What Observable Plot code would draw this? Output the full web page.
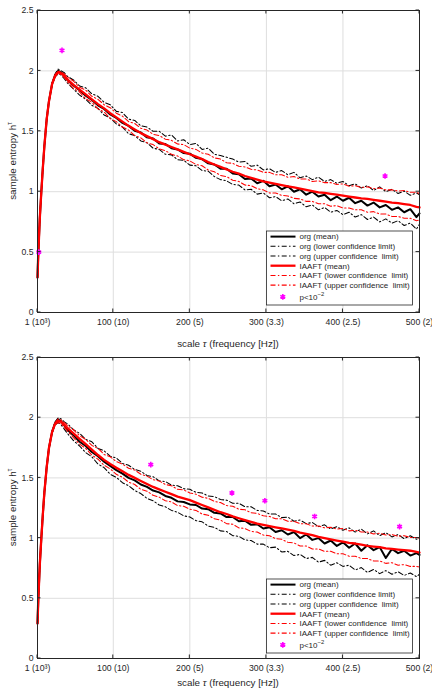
<!DOCTYPE html>
<html><head><meta charset="utf-8">
<script src="https://cdn.jsdelivr.net/npm/d3@7"></script>
<script src="https://cdn.jsdelivr.net/npm/@observablehq/plot@0.6"></script>
<style>
body{margin:0;background:#fff;font-family:"Liberation Sans",Arial,sans-serif}
svg{display:block}
</style>
</head><body><div id="c"></div>
<script>
const scales = [1,2,4,6,8,10,13,16,20,24,28,32,36,40,
48,56,64,72,80,88,96,104,
112,120,128,136,144,152,160,168,
176,184,192,200,208,216,224,232,
240,248,256,264,272,280,288,296,
304,312,320,328,336,344,352,360,
368,376,384,392,400,408,416,424,
432,440,448,456,464,472,480,488,
496,500];

// ---- top panel ----
const topOrgMean = [0.29,0.48,0.78,1.00,1.20,1.38,1.60,1.75,1.89,1.965,2.0,1.985,1.96,1.925,
1.88,1.84,1.795,1.76,1.715,1.685,1.64,1.61,
1.57,1.545,1.505,1.49,1.45,1.44,1.40,1.395,
1.36,1.35,1.32,1.315,1.28,1.27,1.235,1.225,
1.19,1.19,1.15,1.145,1.105,1.11,1.07,1.09,
1.045,1.06,1.02,1.045,1.0,1.02,0.975,1.0,
0.96,0.975,0.93,0.96,0.925,0.95,0.905,0.925,
0.885,0.91,0.87,0.89,0.85,0.87,0.83,0.855,
0.79,0.82];
const topOrgLower = [0.28,0.47,0.77,0.99,1.19,1.37,1.59,1.74,1.88,1.95,1.975,1.965,1.935,1.90,
1.85,1.80,1.765,1.715,1.69,1.635,1.61,1.56,
1.535,1.48,1.465,1.42,1.405,1.36,1.35,1.31,
1.305,1.265,1.26,1.22,1.215,1.175,1.17,1.125,
1.10,1.09,1.06,1.055,1.015,1.02,0.98,0.99,
0.95,0.96,0.925,0.94,0.90,0.915,0.875,0.89,
0.85,0.87,0.83,0.845,0.81,0.83,0.79,0.81,
0.77,0.79,0.75,0.775,0.74,0.76,0.72,0.74,
0.69,0.73];
const topOrgUpper = [0.30,0.49,0.79,1.01,1.21,1.39,1.61,1.76,1.90,1.975,2.015,2.0,1.985,1.955,
1.925,1.875,1.86,1.81,1.79,1.74,1.72,1.665,
1.655,1.60,1.59,1.545,1.535,1.50,1.50,1.46,
1.47,1.42,1.43,1.39,1.40,1.35,1.36,1.31,
1.30,1.285,1.27,1.245,1.25,1.21,1.22,1.18,
1.19,1.16,1.175,1.14,1.16,1.115,1.13,1.10,
1.12,1.085,1.10,1.07,1.085,1.05,1.065,1.03,
1.05,1.01,1.04,1.0,1.02,0.985,1.005,0.97,
0.99,0.975];
const topIaaftMean = [0.29,0.48,0.78,1.00,1.20,1.38,1.60,1.75,1.89,1.96,1.99,1.98,1.96,1.93,
1.885,1.845,1.805,1.765,1.725,1.69,1.65,1.615,
1.58,1.545,1.515,1.485,1.46,1.435,1.41,1.39,
1.37,1.35,1.33,1.31,1.29,1.27,1.245,1.225,
1.205,1.185,1.165,1.15,1.13,1.115,1.10,1.085,
1.075,1.065,1.055,1.045,1.035,1.025,1.015,1.005,
0.995,0.99,0.982,0.975,0.968,0.96,0.952,0.945,
0.94,0.932,0.925,0.918,0.91,0.905,0.898,0.89,
0.875,0.87];
const topIaaftLower = [0.285,0.475,0.775,0.995,1.195,1.375,1.595,1.745,1.885,1.95,1.98,1.97,1.945,1.91,
1.855,1.825,1.77,1.74,1.685,1.66,1.605,1.58,
1.535,1.51,1.465,1.445,1.405,1.39,1.355,1.34,
1.31,1.295,1.265,1.255,1.225,1.215,1.18,1.165,
1.135,1.125,1.095,1.085,1.055,1.05,1.025,1.015,
0.99,0.99,0.97,0.965,0.945,0.94,0.92,0.92,
0.90,0.90,0.88,0.885,0.865,0.865,0.85,0.85,
0.83,0.835,0.815,0.815,0.795,0.795,0.78,0.78,
0.76,0.765];
const topIaaftUpper = [0.295,0.485,0.785,1.005,1.205,1.385,1.605,1.755,1.895,1.97,2.0,1.99,1.975,1.95,
1.915,1.865,1.84,1.79,1.765,1.72,1.695,1.65,
1.625,1.58,1.565,1.525,1.51,1.475,1.465,1.435,
1.425,1.395,1.39,1.36,1.35,1.32,1.31,1.28,
1.27,1.24,1.235,1.21,1.205,1.185,1.18,1.16,
1.16,1.14,1.14,1.12,1.125,1.105,1.105,1.085,
1.09,1.075,1.075,1.06,1.065,1.045,1.05,1.035,
1.04,1.025,1.03,1.015,1.015,1.005,1.01,0.995,
0.995,0.985];
const topSigScale = [2.7, 33, 455];
const topSigValue = [0.5, 2.17, 1.13];

// ---- bottom panel ----
const botOrgMean = [0.29,0.48,0.78,1.0,1.2,1.38,1.59,1.75,1.88,1.955,1.985,1.97,1.935,1.90,
1.855,1.80,1.765,1.715,1.68,1.635,1.60,1.565,
1.535,1.50,1.48,1.445,1.425,1.395,1.38,1.35,
1.335,1.305,1.30,1.28,1.275,1.245,1.24,1.21,
1.205,1.175,1.175,1.14,1.145,1.11,1.115,1.08,
1.09,1.05,1.065,1.03,1.05,1.0,1.03,0.985,
1.0,0.955,0.98,0.935,0.965,0.92,0.955,0.895,
0.94,0.90,0.925,0.835,0.91,0.875,0.895,0.855,
0.875,0.86];
const botOrgLower = [0.28,0.47,0.77,0.99,1.19,1.37,1.58,1.74,1.87,1.94,1.96,1.94,1.905,1.87,
1.81,1.765,1.71,1.675,1.615,1.585,1.53,1.505,
1.46,1.435,1.395,1.37,1.33,1.31,1.275,1.26,
1.23,1.215,1.185,1.175,1.145,1.135,1.10,1.09,
1.06,1.055,1.02,1.015,0.985,0.98,0.95,0.95,
0.92,0.925,0.885,0.89,0.855,0.865,0.83,0.84,
0.80,0.815,0.775,0.795,0.765,0.775,0.735,0.755,
0.715,0.74,0.705,0.73,0.70,0.72,0.69,0.71,
0.68,0.70];
const botOrgUpper = [0.30,0.49,0.79,1.01,1.21,1.39,1.60,1.76,1.89,1.965,2.0,1.99,1.965,1.95,
1.90,1.87,1.82,1.80,1.745,1.725,1.68,1.665,
1.62,1.605,1.57,1.555,1.52,1.51,1.475,1.47,
1.44,1.435,1.41,1.405,1.38,1.375,1.35,1.345,
1.32,1.315,1.29,1.29,1.26,1.26,1.23,1.225,
1.20,1.20,1.17,1.175,1.14,1.15,1.12,1.13,
1.095,1.11,1.075,1.095,1.065,1.085,1.05,1.075,
1.035,1.06,1.02,1.045,1.01,1.03,0.995,1.02,
0.99,1.0];
const botIaaftMean = [0.29,0.48,0.78,1.0,1.2,1.38,1.59,1.75,1.88,1.95,1.975,1.965,1.94,1.915,
1.87,1.825,1.78,1.735,1.69,1.65,1.615,1.585,
1.555,1.525,1.50,1.475,1.45,1.425,1.405,1.385,
1.365,1.345,1.33,1.315,1.295,1.275,1.255,1.235,
1.215,1.20,1.18,1.165,1.15,1.135,1.12,1.11,
1.10,1.09,1.08,1.07,1.06,1.045,1.035,1.025,
1.01,1.0,0.99,0.98,0.97,0.96,0.955,0.945,
0.935,0.93,0.925,0.915,0.91,0.905,0.90,0.895,
0.885,0.88];
const botIaaftLower = [0.285,0.475,0.775,0.995,1.195,1.375,1.585,1.745,1.875,1.94,1.96,1.95,1.92,1.89,
1.835,1.78,1.745,1.69,1.655,1.605,1.575,1.53,
1.505,1.465,1.445,1.405,1.39,1.355,1.34,1.31,
1.30,1.27,1.265,1.24,1.23,1.20,1.19,1.16,
1.15,1.12,1.115,1.085,1.08,1.055,1.05,1.025,
1.02,0.995,0.99,0.965,0.96,0.935,0.935,0.91,
0.91,0.89,0.89,0.87,0.87,0.85,0.85,0.83,
0.83,0.81,0.81,0.79,0.795,0.775,0.78,0.765,
0.765,0.76];
const botIaaftUpper = [0.295,0.485,0.785,1.005,1.205,1.385,1.595,1.755,1.885,1.96,1.99,1.98,1.96,1.935,
1.90,1.85,1.82,1.77,1.745,1.695,1.675,1.635,
1.615,1.58,1.565,1.53,1.515,1.485,1.475,1.445,
1.435,1.405,1.40,1.375,1.365,1.34,1.33,1.305,
1.295,1.27,1.265,1.24,1.235,1.21,1.205,1.185,
1.18,1.16,1.16,1.14,1.14,1.12,1.12,1.10,
1.10,1.085,1.09,1.075,1.08,1.06,1.065,1.05,
1.05,1.035,1.04,1.025,1.03,1.015,1.02,1.005,
1.005,1.0];
const botSigScale = [149, 255, 298, 363, 474];
const botSigValue = [1.61, 1.375, 1.31, 1.18, 1.095];

const xTicks = [1, 100, 200, 300, 400, 500];
const xTickLabels = ["1 (10\u00B3)", "100 (10)", "200 (5)", "300 (3.3)", "400 (2.5)", "500 (2)"];
const yTicks = [0, 0.5, 1, 1.5, 2, 2.5];
const yTickLabels = ["0", "0.5", "1", "1.5", "2", "2.5"];
const legendLabels = ["org (mean)", "org (lower confidence limit)", "org (upper confidence  limit)",
  "IAAFT (mean)", "IAAFT (lower confidence  limit)", "IAAFT (upper confidence  limit)", "p<10"];

const RED = "#ff0000", BLACK = "#000000", MAG = "#ff00ff", INK = "#262626";
const DASH = "5,2.4,1.4,2.4";
const FONT = "'Liberation Sans', Arial, sans-serif";

function toRows(arr) { return scales.map((s, i) => ({x: s, y: arr[i]})); }

function panel(S, cfg) {
  const lines = [
    [S.orgMean, BLACK, 2, null],
    [S.orgLower, BLACK, 1.05, DASH],
    [S.orgUpper, BLACK, 1.05, DASH],
    [S.iaMean, RED, 2.3, null],
    [S.iaLower, RED, 1.05, DASH],
    [S.iaUpper, RED, 1.05, DASH]
  ];
  const sig = S.sigX.map((v, i) => ({x: v, y: S.sigY[i]}));
  const chart = Plot.plot({
    width: 432, height: cfg.height,
    marginLeft: 37, marginRight: 13, marginTop: cfg.mt, marginBottom: cfg.mb,
    style: {fontSize: "8.7px", fontFamily: FONT, color: INK, background: "#fff"},
    x: {domain: [1, 500]},
    y: {domain: [0, 2.5]},
    marks: [
      Plot.gridX(xTicks, {stroke: "#dedede", strokeOpacity: 1, strokeWidth: 1}),
      Plot.gridY(yTicks, {stroke: "#dedede", strokeOpacity: 1, strokeWidth: 1}),
      ...lines.map(([arr, c, w, d]) => Plot.line(toRows(arr), {x: "x", y: "y", stroke: c, strokeWidth: w, strokeDasharray: d || undefined, strokeLinejoin: "round"})),
      Plot.dot(sig, {x: "x", y: "y", symbol: "asterisk", r: 2.6, stroke: MAG, strokeWidth: 1.6}),
      Plot.frame({stroke: INK, strokeWidth: 1}),
      Plot.axisX(xTicks, {tickSize: 0, tickPadding: 6, tickFormat: d => xTickLabels[xTicks.indexOf(d)], label: null}),
      Plot.axisY(yTicks, {tickSize: 0, tickPadding: 4, tickFormat: d => yTickLabels[yTicks.indexOf(d)], label: null})
    ]
  });
  const sx = chart.scale("x"), sy = chart.scale("y");
  const xl = sx.apply(1), xr = sx.apply(500), yb = sy.apply(0), yt = sy.apply(2.5);
  const g = d3.select(chart).append("g").attr("stroke", INK).attr("stroke-width", 1);
  xTicks.forEach(v => {
    const x = sx.apply(v);
    g.append("line").attr("x1", x).attr("x2", x).attr("y1", yb).attr("y2", yb - 3.5);
    g.append("line").attr("x1", x).attr("x2", x).attr("y1", yt).attr("y2", yt + 3.5);
  });
  yTicks.forEach(v => {
    const y = sy.apply(v);
    g.append("line").attr("x1", xl).attr("x2", xl + 3.5).attr("y1", y).attr("y2", y);
    g.append("line").attr("x1", xr).attr("x2", xr - 3.5).attr("y1", y).attr("y2", y);
  });
  const T = d3.select(chart).append("g").attr("fill", INK).attr("font-family", FONT);
  // x label
  const xt = T.append("text").attr("x", (xl + xr) / 2).attr("y", cfg.xlabY).attr("text-anchor", "middle").attr("font-size", 9.8);
  xt.append("tspan").text("scale ");
  xt.append("tspan").attr("font-style", "italic").text("\u03C4");
  xt.append("tspan").text(" (frequency [Hz])");
  // y label
  const yt2 = T.append("text").attr("transform", `translate(15.5,${(yb + yt) / 2}) rotate(-90)`).attr("text-anchor", "middle").attr("font-size", 9.8);
  yt2.append("tspan").text("sample entropy h");
  yt2.append("tspan").attr("dy", -4).attr("font-size", 6.5).text("\u03C4");
  // legend
  const lg = d3.select(chart).append("g").attr("transform", `translate(266.5,${cfg.legTop})`).attr("text-anchor", "start");
  lg.append("rect").attr("width", 146).attr("height", 74).attr("fill", "#fff").attr("stroke", INK).attr("stroke-width", 0.8);
  const offs = [5.6, 15.3, 25, 34.7, 44.4, 54.1, 65.8];
  const styles = [[BLACK, 2, null], [BLACK, 1.05, DASH], [BLACK, 1.05, DASH], [RED, 2.3, null], [RED, 1.05, DASH], [RED, 1.05, DASH]];
  legendLabels.forEach((lab, i) => {
    const y = offs[i];
    if (i < 6) {
      const [c, w, d] = styles[i];
      const ln = lg.append("line").attr("x1", 4).attr("x2", 29).attr("y1", y).attr("y2", y).attr("stroke", c).attr("stroke-width", w);
      if (d) ln.attr("stroke-dasharray", d);
    } else {
      lg.append("path").attr("d", d3.symbol(d3.symbolAsterisk, 22)()).attr("transform", `translate(16.3,${y})`).attr("stroke", MAG).attr("stroke-width", 1.6).attr("fill", "none");
    }
    const t = lg.append("text").attr("x", 33).attr("y", y).attr("dy", "0.35em").attr("font-size", 8).attr("fill", INK)
      .attr("text-anchor", "start").attr("font-family", FONT).style("white-space", "pre");
    t.append("tspan").text(lab);
    if (i === 6) t.append("tspan").attr("dy", -3.2).attr("font-size", 5.8).text("\u22122");
  });
  return chart;
}

const root = document.getElementById("c");
root.appendChild(panel({orgMean: topOrgMean, orgLower: topOrgLower, orgUpper: topOrgUpper,
  iaMean: topIaaftMean, iaLower: topIaaftLower, iaUpper: topIaaftUpper, sigX: topSigScale, sigY: topSigValue},
  {height: 350, mt: 10, mb: 38, xlabY: 346.5, legTop: 231}));
root.appendChild(panel({orgMean: botOrgMean, orgLower: botOrgLower, orgUpper: botOrgUpper,
  iaMean: botIaaftMean, iaLower: botIaaftLower, iaUpper: botIaaftUpper, sigX: botSigScale, sigY: botSigValue},
  {height: 340, mt: 7, mb: 32, xlabY: 336, legTop: 229}));
</script>
</body></html>
